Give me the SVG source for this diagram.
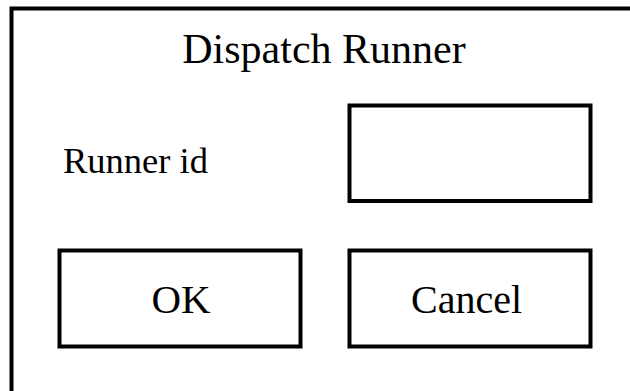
<svg xmlns="http://www.w3.org/2000/svg" width="630" height="391" viewBox="0 0 630 391">
<style>
.box{fill:none;stroke:#000;stroke-width:4}
.t{font-family:"Liberation Serif","Times New Roman",serif;fill:#000}
</style>
<rect width="630" height="391" fill="#fff"/>
<g id="dialog">
<rect class="box" x="11.5" y="8.5" width="625" height="400"/>
<text class="t" x="324" y="62.5" font-size="42" text-anchor="middle">Dispatch Runner</text>
</g>
<g id="label">
<text class="t" x="63" y="173" font-size="36.5">Runner id</text>
</g>
<g id="input">
<rect class="box" x="349.5" y="105.5" width="241" height="95.5"/>
</g>
<g id="ok">
<rect class="box" x="59.5" y="250.5" width="241" height="96"/>
<text class="t" x="181" y="312.5" font-size="41" text-anchor="middle">OK</text>
</g>
<g id="cancel">
<rect class="box" x="349.5" y="250.5" width="241" height="96"/>
<text class="t" x="466.5" y="312.5" font-size="40" text-anchor="middle">Cancel</text>
</g>
<g id="connectors"/>
</svg>
